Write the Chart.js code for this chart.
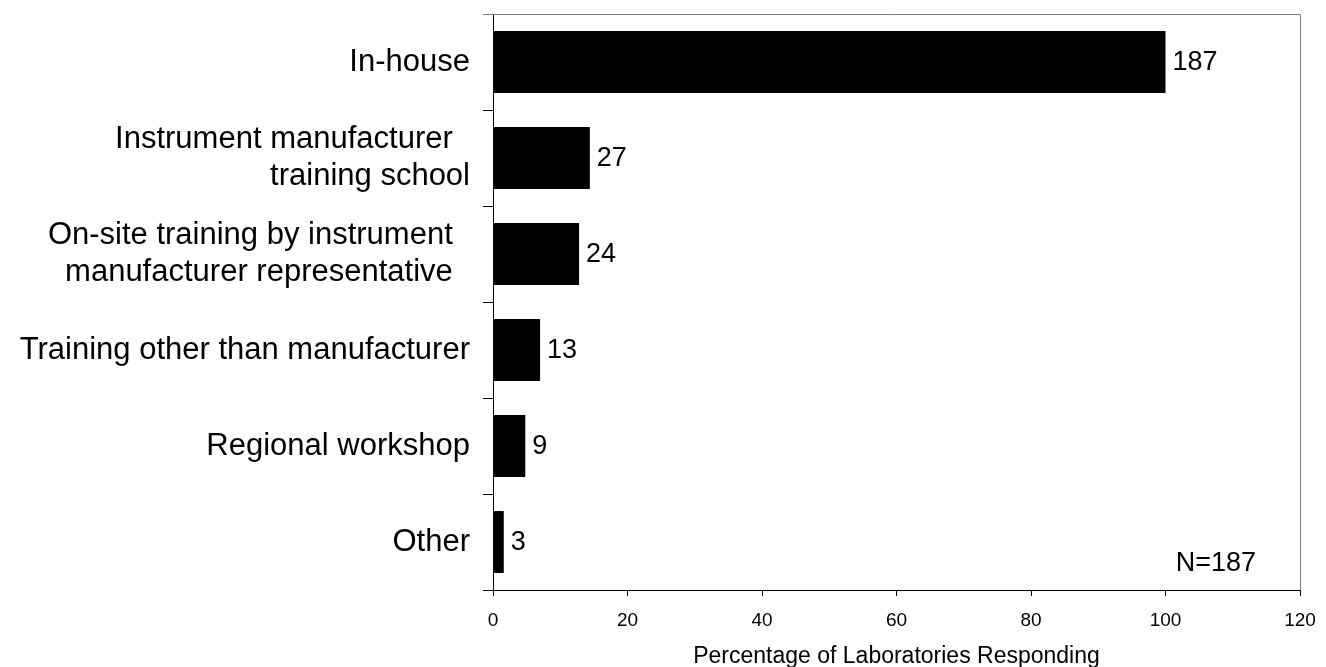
<!DOCTYPE html>
<html>
<head>
<meta charset="utf-8">
<script src="https://cdn.jsdelivr.net/npm/chart.js@4"></script>
<style>
  html, body { margin: 0; padding: 0; background: #fff; }
  #wrap { width: 1326px; height: 667px; position: relative; }
</style>
</head>
<body>
<div id="wrap"><canvas id="chart1"></canvas></div>
<script>
const categories = [
  'In-house',
  ['Instrument manufacturer  ', 'training school'],
  ['On-site training by instrument  ', 'manufacturer representative  '],
  'Training other than manufacturer',
  'Regional workshop',
  'Other'
];
const percentValues = [100, 14.4, 12.8, 7.0, 4.8, 1.6];
const responseCounts = [187, 27, 24, 13, 9, 3];
const xMin = 0, xMax = 120, xStep = 20;
const axisTitle = 'Percentage of Laboratories Responding';
const sampleNote = 'N=187';

const FONT = "'Liberation Sans', Arial, sans-serif";
Chart.defaults.font.family = FONT;
Chart.defaults.color = '#000';

// value labels next to each bar, the N note and the grey frame
const extras = {
  id: 'extras',
  afterDatasetsDraw(chart) {
    const ctx = chart.ctx;
    const area = chart.chartArea;
    const meta = chart.getDatasetMeta(0);
    ctx.save();
    ctx.fillStyle = '#000';
    ctx.font = '27px ' + FONT;
    ctx.textAlign = 'left';
    ctx.textBaseline = 'middle';
    meta.data.forEach((bar, i) => {
      ctx.fillText(String(responseCounts[i]), bar.x + 7, bar.y + 1);
    });
    ctx.textAlign = 'right';
    ctx.textBaseline = 'alphabetic';
    ctx.fillText(sampleNote, area.right - 44, area.bottom - 19);

    ctx.strokeStyle = '#808080';
    ctx.lineWidth = 1;
    ctx.beginPath();
    ctx.moveTo(area.left - 10, area.top + 0.5);
    ctx.lineTo(area.right + 0.5, area.top + 0.5);
    ctx.lineTo(area.right + 0.5, area.bottom);
    ctx.stroke();
    ctx.restore();
  }
};

const ctx1 = document.getElementById('chart1').getContext('2d');
new Chart(ctx1, {
  type: 'bar',
  data: {
    labels: categories,
    datasets: [{
      data: percentValues,
      backgroundColor: '#000',
      borderWidth: 0,
      barPercentage: 0.645,
      categoryPercentage: 1.0
    }]
  },
  options: {
    indexAxis: 'y',
    responsive: true,
    maintainAspectRatio: false,
    animation: false,
    layout: {
      padding: { top: 14, right: 26, left: 0, bottom: 0 }
    },
    plugins: {
      legend: { display: false },
      tooltip: { enabled: false }
    },
    scales: {
      x: {
        min: xMin,
        max: xMax,
        grid: {
          drawOnChartArea: false,
          drawTicks: true,
          tickLength: 6,
          color: '#000'
        },
        border: { display: true, color: '#000', width: 1 },
        ticks: {
          stepSize: xStep,
          font: { size: 19 },
          color: '#000',
          padding: 13,
          maxRotation: 0
        },
        title: {
          display: true,
          text: axisTitle,
          font: { size: 23 },
          color: '#000',
          padding: { top: 0, bottom: -3 }
        },
        afterFit: scale => {
          scale.height = 77;
          scale.paddingLeft = 0;
          scale.paddingRight = 0;
        }
      },
      y: {
        grid: {
          offset: true,
          drawOnChartArea: false,
          drawTicks: true,
          tickLength: 10,
          color: '#000'
        },
        border: { display: true, color: '#000', width: 1 },
        ticks: {
          font: { size: 31, lineHeight: 1.2 },
          color: '#000',
          padding: 13,
          autoSkip: false
        },
        afterFit: scale => {
          scale.width = 493;
          scale.paddingTop = 0;
          scale.paddingBottom = 0;
        }
      }
    }
  },
  plugins: [extras]
});
</script>
</body>
</html>
